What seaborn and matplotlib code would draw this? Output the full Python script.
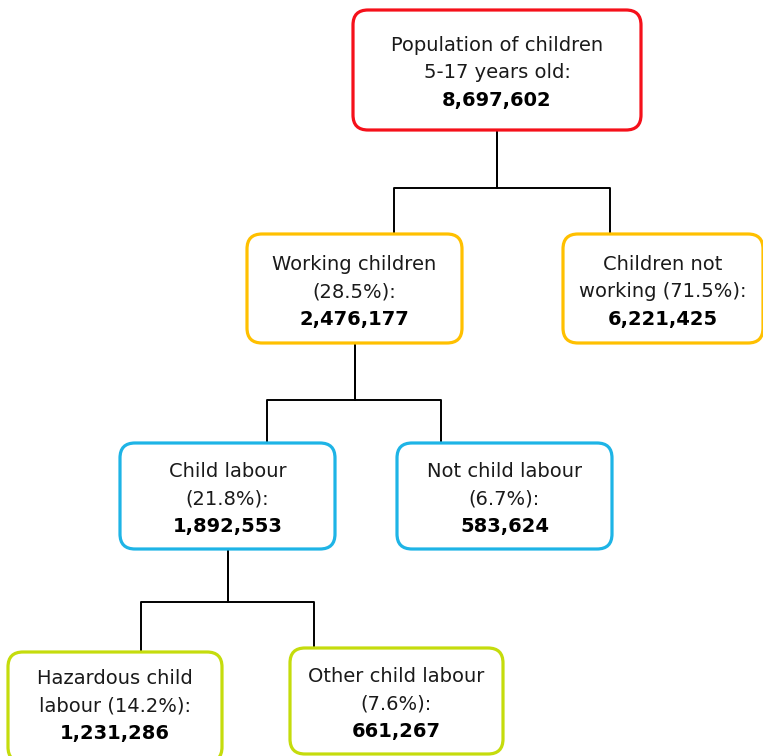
import seaborn as sns
import matplotlib.pyplot as plt
from matplotlib.patches import FancyBboxPatch

# node data
node_labels = [
    "Population of children\n5-17 years old:",
    "Working children\n({:.1f}%):",
    "Children not\nworking ({:.1f}%):",
    "Child labour\n({:.1f}%):",
    "Not child labour\n({:.1f}%):",
    "Hazardous child\nlabour ({:.1f}%):",
    "Other child labour\n({:.1f}%):",
]
node_shares = [None, 28.5, 71.5, 21.8, 6.7, 14.2, 7.6]
node_counts = [8697602, 2476177, 6221425, 1892553, 583624, 1231286, 661267]
node_parents = [None, 0, 0, 1, 1, 3, 3]
node_levels = [0, 1, 1, 2, 2, 3, 3]

# layout (pixels): box left, top, right, bottom
boxes = [
    (353, 10, 641, 130),
    (247, 234, 462, 343),
    (563, 234, 763, 343),
    (120, 443, 335, 549),
    (397, 443, 612, 549),
    (8, 652, 222, 762),
    (290, 648, 503, 754),
]
drop_x = [None, 394, 610, 267, 441, 141, 314]   # where connector meets child box
elbow_y = {1: 188, 2: 400, 3: 602}
level_colors = ["#F5101A", "#FFC000", "#1EB4E6", "#C5DC0C"]

sns.set_theme(style="white")
plt.rcParams['font.family'] = ['DejaVu Sans']

W, H = 763, 756
fig = plt.figure(figsize=(W / 100, H / 100), dpi=100)
ax = fig.add_axes([0, 0, 1, 1])
ax.set_xlim(0, W)
ax.set_ylim(H, 0)
ax.axis("off")

# connectors
for i, p in enumerate(node_parents):
    if p is None:
        continue
    px = (boxes[p][0] + boxes[p][2]) / 2
    py = boxes[p][3]
    ey = elbow_y[node_levels[i]]
    cx = drop_x[i]
    cy = boxes[i][1]
    ax.plot([px, px], [py, ey], color="black", lw=1.4, solid_capstyle="butt", zorder=1)
    ax.plot([px, cx, cx], [ey, ey, cy], color="black", lw=1.4, solid_capstyle="projecting", zorder=1)

# boxes + text
fs = 14
for i, (l, t, r, b) in enumerate(boxes):
    patch = FancyBboxPatch((l, t), r - l, b - t,
                           boxstyle="round,pad=0,rounding_size=15",
                           facecolor="white", edgecolor=level_colors[node_levels[i]],
                           linewidth=2.3, zorder=2)
    ax.add_patch(patch)
    cx = (l + r) / 2
    cy = (t + b) / 2 + 3
    if b > H:
        cy = t + 54
    label = node_labels[i]
    if node_shares[i] is not None:
        label = label.format(node_shares[i])
    lines = label.split("\n")
    ax.text(cx, cy - 27.5, lines[0], ha="center", va="center", fontsize=fs, color="#1a1a1a", zorder=3)
    ax.text(cx, cy, lines[1], ha="center", va="center", fontsize=fs, color="#1a1a1a", zorder=3)
    ax.text(cx, cy + 27.5, f"{node_counts[i]:,}", ha="center", va="center",
            fontsize=fs, fontweight="bold", color="black", zorder=3)

fig.savefig("out.png", dpi=100)
